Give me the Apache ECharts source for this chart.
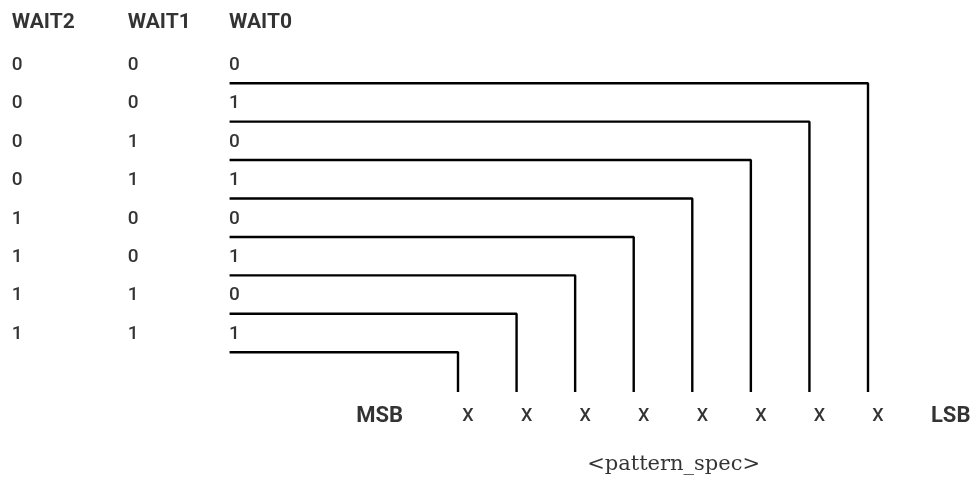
<!DOCTYPE html>
<html>
<head>
<meta charset="utf-8">
<script src="https://cdn.jsdelivr.net/npm/echarts@6/dist/echarts.min.js"></script>
<style>
  html, body { margin: 0; padding: 0; background: #fff; }
  #chart { width: 971px; height: 477px; }
</style>
</head>
<body>
<div id="chart"></div>
<script>
// data
var waitHeaders = ["WAIT2", "WAIT1", "WAIT0"];
var waitRows = [
  [0, 0, 0],
  [0, 0, 1],
  [0, 1, 0],
  [0, 1, 1],
  [1, 0, 0],
  [1, 0, 1],
  [1, 1, 0],
  [1, 1, 1]
];
var bitLabels = ["X", "X", "X", "X", "X", "X", "X", "X"];
var endLabels = ["MSB", "LSB"];
var caption = "<pattern_spec>";

// layout (in axis units: x = bit column, y = table row)
var colX = [-7.61, -5.63, -3.9];   // left edges of the three WAIT columns
var lineStartX = -3.9;
var headerY = -1.05;
var cellShiftY = 0.04;
var lineBottomY = 8.535;
var bitLabelY = 9.19;
var bitLabelShift = 0.18;
var msbX = -1.33, lsbX = 8.42;
var captionX = 3.69, captionY = 10.43;

var sans = "Roboto";

var chart = echarts.init(document.getElementById("chart"));

var series = [];

// step lines from each row to its bit column
waitRows.forEach(function (r, i) {
  var code = r[0] * 4 + r[1] * 2 + r[2];
  var bit = bitLabels.length - 1 - code;
  series.push({
    type: "line",
    data: [[lineStartX, i + 0.5], [bit, i + 0.5], [bit, lineBottomY]],
    symbol: "none",
    silent: true,
    lineStyle: { color: "#000", width: 2.4 }
  });
});

function textSeries(points, style, align) {
  return {
    type: "scatter",
    data: points,
    symbolSize: 1,
    itemStyle: { color: "rgba(0,0,0,0)" },
    silent: true,
    label: {
      show: true,
      position: [0, 0],
      align: align,
      verticalAlign: "middle",
      formatter: function (p) { return p.value[2]; },
      color: "#000",
      textBorderWidth: 0,
      fontFamily: style.fontFamily,
      fontSize: style.fontSize,
      fontWeight: style.fontWeight
    }
  };
}

var headerPts = waitHeaders.map(function (h, c) { return [colX[c], headerY, h]; });
var cellPts = [];
waitRows.forEach(function (r, i) {
  r.forEach(function (v, c) { cellPts.push([colX[c], i + cellShiftY, String(v)]); });
});
var bitPts = bitLabels.map(function (b, k) { return [k + bitLabelShift, bitLabelY, b]; });
var endPts = [[msbX, bitLabelY, endLabels[0]], [lsbX, bitLabelY, endLabels[1]]];

series.push(textSeries(headerPts, { fontFamily: sans, fontSize: 21, fontWeight: "bold" }, "left"));
series.push(textSeries(cellPts, { fontFamily: sans, fontSize: 19, fontWeight: 500 }, "left"));
series.push(textSeries(bitPts, { fontFamily: sans, fontSize: 18, fontWeight: 500 }, "center"));
series.push(textSeries(endPts, { fontFamily: sans, fontSize: 22, fontWeight: "bold" }, "center"));
series.push(textSeries([[captionX, captionY, caption]], { fontFamily: "DejaVu Serif", fontSize: 21, fontWeight: "normal" }, "center"));

// full-canvas grid: bit 0 sits at x=458px, bit 7 at 868px; row 0 at 64px, row 7 at 333px
var option = {
  animation: false,
  backgroundColor: "#fff",
  grid: { left: 0, right: 0, top: 0, bottom: 0 },
  xAxis: { type: "value", min: -7.8195, max: 8.7585, show: false },
  yAxis: { type: "value", min: -1.6654, max: 10.747, inverse: true, show: false },
  series: series
};

chart.setOption(option);
window.addEventListener("resize", function () { chart.resize(); });
</script>
</body>
</html>
